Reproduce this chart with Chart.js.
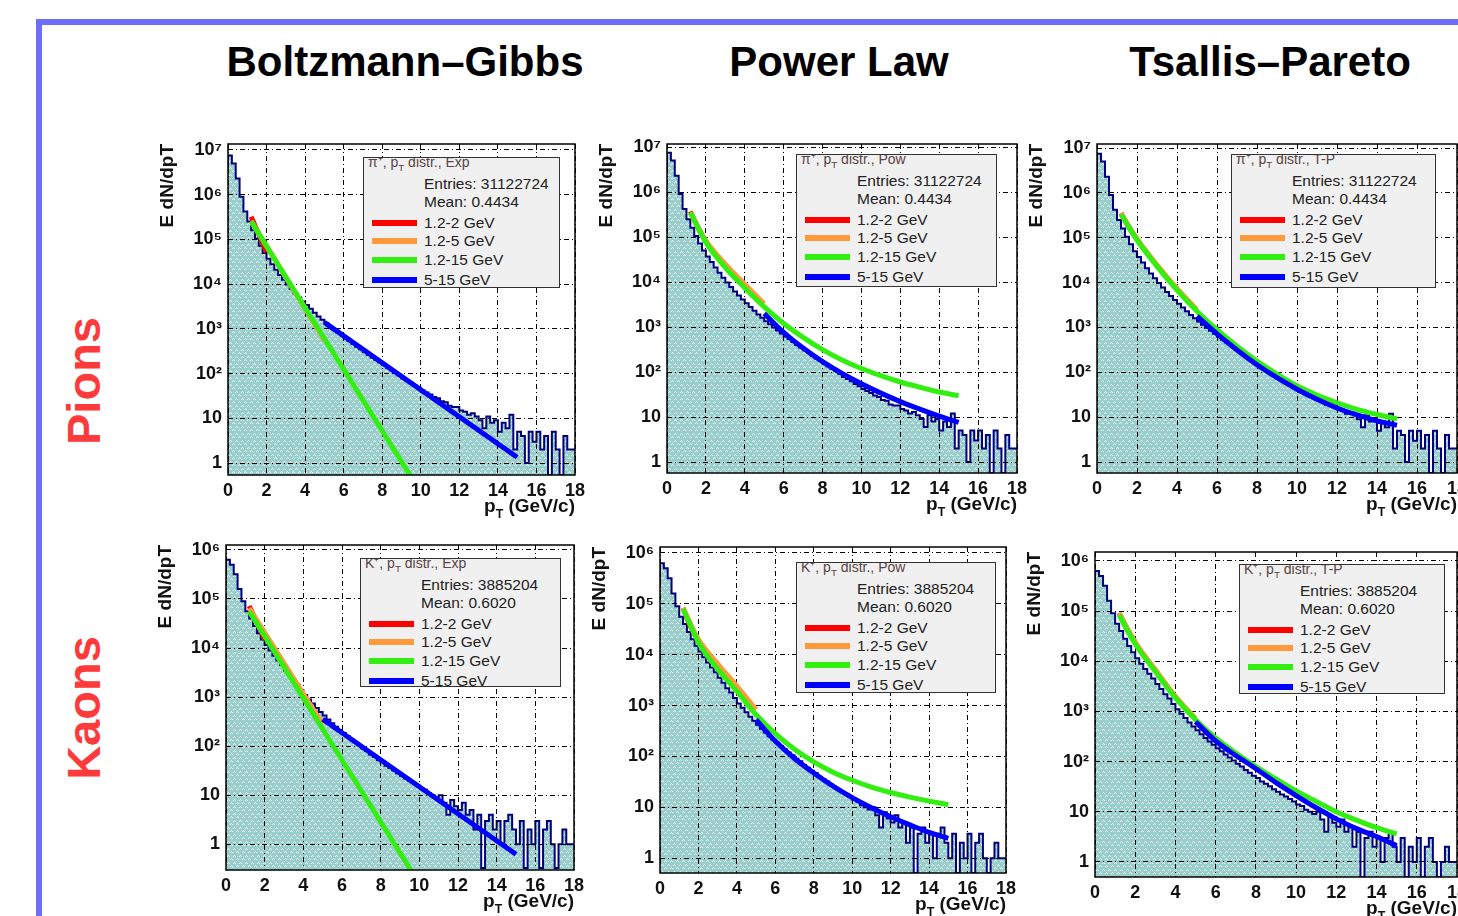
<!DOCTYPE html>
<html>
<head>
<meta charset="utf-8">
<script src="https://cdn.jsdelivr.net/npm/chart.js@4.4.1/dist/chart.umd.min.js"></script>
<style>
  html, body { margin: 0; padding: 0; background: #fff; width: 1458px; height: 916px; overflow: hidden; position: relative;
    font-family: "Liberation Sans", Arial, sans-serif; }
  .frame { position: absolute; left: 36px; top: 19px; width: 1500px; height: 1000px; border: 6px solid #6e6efc; box-sizing: border-box; }
  .col { position: absolute; top: 41px; font-weight: bold; font-size: 42px; line-height: 1; color: #000; transform: translateX(-50%); white-space: nowrap; }
  .row { position: absolute; left: 83px; font-weight: bold; font-size: 47px; line-height: 1; color: #ff3a3a; white-space: nowrap;
    transform: translate(-50%, -50%) rotate(-90deg); }
  canvas { position: absolute; }
  .stats { position: absolute; background: #f0f0f0; border: 1.5px solid #333; box-sizing: border-box; overflow: hidden;
    font-size: 15.5px; color: #222; }
  .stats div { position: absolute; white-space: nowrap; line-height: 1; transform: translateY(-50%); }
  .stats .ttl { font-size: 14px; color: #5a4444; }
  .stats sub { font-size: 0.7em; vertical-align: -0.35em; }
  .xt { position: absolute; font-weight: bold; font-size: 19px; line-height: 1; color: #111; white-space: nowrap; transform: translateX(-100%); }
  .xt sub { font-size: 0.65em; vertical-align: -0.45em; }
</style>
</head>
<body>
<div class="frame"></div>
<div class="col" style="left:405px">Boltzmann–Gibbs</div>
<div class="col" style="left:839px">Power Law</div>
<div class="col" style="left:1270px">Tsallis–Pareto</div>
<div class="row" style="top:381px">Pions</div>
<div class="row" style="top:708px">Kaons</div>

<script>
// histogram bins (GeV/c)
const ptEdges = [0, 0.2, 0.4, 0.6, 0.8, 1, 1.2, 1.4, 1.6, 1.8, 2, 2.2, 2.4, 2.6, 2.8, 3, 3.2, 3.4, 3.6, 3.8,
  4, 4.2, 4.4, 4.6, 4.8, 5, 5.2, 5.4, 5.6, 5.8, 6, 6.2, 6.4, 6.6, 6.8, 7, 7.2, 7.4, 7.6, 7.8,
  8, 8.2, 8.4, 8.6, 8.8, 9, 9.2, 9.4, 9.6, 9.8, 10, 10.2, 10.4, 10.6, 10.8, 11, 11.2, 11.4, 11.6, 11.8,
  12, 12.2, 12.4, 12.6, 12.8, 13, 13.2, 13.4, 13.6, 13.8, 14, 14.2, 14.4, 14.6, 14.8, 15, 15.2, 15.4, 15.6, 15.8,
  16, 16.2, 16.4, 16.6, 16.8, 17, 17.2, 17.4, 17.6, 17.8, 18];

// E dN/dpT per bin
const pionCounts = [
  3.2e6, 7.5e6, 5.0e6, 2.3e6, 9.0e5, 4.2e5, 2.5e5, 1.6e5, 1.05e5, 7.2e4,
  5.0e4, 3.7e4, 2.8e4, 2.1e4, 1.6e4, 1.25e4, 9.8e3, 7.8e3, 6.2e3, 5.0e3,
  4.1e3, 3.4e3, 2.8e3, 2.3e3, 1.9e3, 1.6e3, 1.35e3, 1.15e3, 980, 840,
  720, 620, 540, 465, 400, 350, 305, 265, 230, 200,
  180, 155, 135, 118, 105, 92, 78, 70, 62, 54,
  48, 42, 38, 34, 30, 28, 24, 23, 19, 18,
  18, 15, 14, 12, 13, 11, 9, 6, 11, 8,
  9, 5, 8, 6, 12, 2, 5, 4, 1, 5,
  3, 5, 2, 4, 0, 5, 2, 0, 4, 2];

const kaonCounts = [
  2.5e5, 6.3e5, 5.0e5, 3.2e5, 1.6e5, 9.0e4, 5.6e4, 4.0e4, 2.8e4, 2.0e4,
  1.5e4, 1.15e4, 8.9e3, 7.0e3, 5.6e3, 4.5e3, 3.5e3, 2.8e3, 2.2e3, 1.8e3,
  1.4e3, 1.1e3, 900, 740, 600, 500, 420, 350, 295, 250,
  215, 185, 160, 138, 120, 105, 90, 80, 68, 60,
  52, 47, 40, 36, 32, 28, 25, 22, 20, 18,
  16, 14, 13, 11, 10, 9, 10, 7, 4, 8,
  6, 5, 7, 4, 5, 2, 4, 0, 3, 4,
  2, 3, 1, 3, 4, 2, 1, 3, 0, 2,
  1, 3, 0, 2, 3, 1, 0, 1, 2, 1];

// fit curves, x in GeV/c
const expX_1_2 = [1.2, 2.0];
const expX_1_5 = [1.2, 5.0];
const expX_1_15 = [1.2, 15.0];
const expX_5_15 = [5.0, 15.0];
const curveX_1_2 = [1.2, 1.6, 2.0];
const curveX_1_5 = [1.2, 2, 3, 4, 5];
const curveX_1_15 = [1.2, 2, 3, 4, 5, 6, 7, 8, 9, 10, 11, 12, 13, 14, 15];
const curveX_5_15 = [5, 6, 7, 8, 9, 10, 11, 12, 13, 14, 15];

const piExpRed = [3.2e5, 5.2e4];
const piExpOrange = [2.6e5, 560];
const piExpGreen = [2.5e5, 8e-5];
const piExpBlue = [1.4e3, 1.35];

const piPowRed = [3.7e5, 1.6e5, 7.9e4];
const piPowOrange = [3.5e5, 8.3e4, 2.5e4, 8.9e3, 3.3e3];
const piPowGreen = [3.5e5, 7.6e4, 2.1e4, 7.4e3, 2.8e3, 1.2e3, 590, 316, 186, 120, 83, 60, 46, 36, 30];
const piPowBlue = [2.0e3, 760, 340, 170, 93, 55, 34, 22, 15, 10.5, 7.6];

const piTPRed = [3.5e5, 1.7e5, 9.3e4];
const piTPOrange = [3.5e5, 9.5e4, 2.5e4, 7.4e3, 2.5e3];
const piTPGreen = [3.3e5, 8.9e4, 2.3e4, 6.8e3, 2.3e3, 890, 380, 178, 91, 50, 31, 21, 15, 11.5, 9.1];
const piTPBlue = [1.78e3, 720, 316, 148, 76, 42, 25, 16, 11.2, 8.3, 6.6];

const kExpRed = [7.2e4, 1.5e4];
const kExpOrange = [6.5e4, 280];
const kExpGreen = [5.6e4, 1.1e-4];
const kExpBlue = [355, 0.63];

const kPowRed = [8.3e4, 3.5e4, 1.86e4];
const kPowOrange = [8.3e4, 2.0e4, 6.6e3, 2.4e3, 830];
const kPowGreen = [7.9e4, 1.74e4, 5.2e3, 1.9e3, 660, 280, 138, 78, 49, 34, 25, 19.5, 15.8, 13.2, 11.2];
const kPowBlue = [525, 200, 91, 47, 26, 15.5, 9.8, 6.5, 4.5, 3.2, 2.45];

const kTPRed = [9.1e4, 4.2e4, 2.4e4];
const kTPOrange = [9.1e4, 2.4e4, 6.8e3, 2.0e3, 720];
const kTPGreen = [8.3e4, 2.2e4, 6.2e3, 1.86e3, 680, 295, 148, 79, 45, 26, 16, 10, 6.8, 4.8, 3.6];
const kTPBlue = [620, 257, 132, 72, 38, 21, 12, 7.2, 4.6, 3.2, 2.1];

const fitLabels = ['1.2-2 GeV', '1.2-5 GeV', '1.2-15 GeV', '5-15 GeV'];
const yDecades = [1, 10, 100, 1e3, 1e4, 1e5, 1e6, 1e7];
const xTickStep = 2;

const fitColors = ['#ff0000', '#ff9a3c', '#33ee11', '#0000ff'];
const FONT = "'Liberation Sans', Arial, sans-serif";
const SUP = ['⁰', '¹', '²', '³', '⁴', '⁵', '⁶', '⁷', '⁸', '⁹'];

const panels = [
  { plot: [228, 144, 575, 475], yMin: 0.54, yMax: 1.36e7, counts: pionCounts,
    fits: [[expX_1_2, piExpRed], [expX_1_5, piExpOrange], [expX_1_15, piExpGreen], [expX_5_15, piExpBlue]],
    stats: [363, 157, 560, 288], title: 'π⁺, p<sub>T</sub> distr., Exp', entries: '31122724', mean: '0.4434' },
  { plot: [667, 144, 1017, 473], yMin: 0.57, yMax: 1.17e7, counts: pionCounts,
    fits: [[curveX_1_2, piPowRed], [curveX_1_5, piPowOrange], [curveX_1_15, piPowGreen], [curveX_5_15, piPowBlue]],
    stats: [796, 154, 997, 287], title: 'π⁺, p<sub>T</sub> distr., Pow', entries: '31122724', mean: '0.4434' },
  { plot: [1097, 144, 1457, 473], yMin: 0.57, yMax: 1.23e7, counts: pionCounts,
    fits: [[curveX_1_2, piTPRed], [curveX_1_5, piTPOrange], [curveX_1_15, piTPGreen], [curveX_5_15, piTPBlue]],
    stats: [1231, 154, 1436, 288], title: 'π⁺, p<sub>T</sub> distr., T-P', entries: '31122724', mean: '0.4434' },
  { plot: [226, 545, 574, 870], yMin: 0.33, yMax: 1.26e6, counts: kaonCounts,
    fits: [[expX_1_2, kExpRed], [expX_1_5, kExpOrange], [expX_1_15, kExpGreen], [expX_5_15, kExpBlue]],
    stats: [360, 558, 561, 687], title: 'K⁺, p<sub>T</sub> distr., Exp', entries: '3885204', mean: '0.6020' },
  { plot: [660, 547, 1006, 873], yMin: 0.51, yMax: 1.31e6, counts: kaonCounts,
    fits: [[curveX_1_2, kPowRed], [curveX_1_5, kPowOrange], [curveX_1_15, kPowGreen], [curveX_5_15, kPowBlue]],
    stats: [796, 562, 996, 693], title: 'K⁺, p<sub>T</sub> distr., Pow', entries: '3885204', mean: '0.6020' },
  { plot: [1095, 552, 1457, 877], yMin: 0.5, yMax: 1.5e6, counts: kaonCounts,
    fits: [[curveX_1_2, kTPRed], [curveX_1_5, kTPOrange], [curveX_1_15, kTPGreen], [curveX_5_15, kTPBlue]],
    stats: [1239, 564, 1445, 694], title: 'K⁺, p<sub>T</sub> distr., T-P', entries: '3885204', mean: '0.6020' }
];

// ROOT-like hatched fill
function makeHatch() {
  const c = document.createElement('canvas');
  c.width = 6; c.height = 7;
  const g = c.getContext('2d');
  g.fillStyle = '#98cfcc';
  g.fillRect(0, 0, 6, 7);
  g.fillStyle = 'rgba(255,255,255,0.85)';
  g.fillRect(2, 1, 1, 1); g.fillRect(1, 2, 1, 1); g.fillRect(3, 2, 1, 1);
  g.fillRect(5, 4, 1, 1); g.fillRect(4, 5, 1, 1); g.fillRect(0, 5, 1, 1);
  return g.createPattern(c, 'repeat');
}
const hatch = makeHatch();

// grid drawn on top of the histogram fill but under the fits
const gridOverFill = {
  id: 'gridOverFill',
  afterDatasetDraw(chart, args) {
    if (args.index !== 0) return;
    const ca = chart.chartArea, ctx = chart.ctx;
    ctx.save();
    ctx.beginPath();
    ctx.rect(ca.left, ca.top, ca.right - ca.left, ca.bottom - ca.top);
    ctx.clip();
    chart.scales.x.drawGrid(ca);
    chart.scales.y.drawGrid(ca);
    ctx.restore();
  }
};

const frame = {
  id: 'frame',
  afterDraw(chart) {
    const ca = chart.chartArea, ctx = chart.ctx;
    ctx.save();
    ctx.strokeStyle = '#000';
    ctx.lineWidth = 1.5;
    ctx.strokeRect(ca.left, ca.top, ca.right - ca.left, ca.bottom - ca.top);
    ctx.restore();
  }
};

function decadeLabel(v) {
  if (v === 1) return '1';
  if (v === 10) return '10';
  return '10' + SUP[Math.round(Math.log10(v))];
}

function makePanel(p) {
  const [L, T, R, B] = p.plot;
  const cv = document.createElement('canvas');
  cv.width = R - L + 92;
  cv.height = B - T + 65;
  cv.style.left = (L - 72) + 'px';
  cv.style.top = (T - 20) + 'px';
  document.body.appendChild(cv);

  const histData = ptEdges.map((x, i) => ({ x, y: Math.max(p.counts[Math.min(i, p.counts.length - 1)], p.yMin) }));
  const datasets = [{
    data: histData, stepped: 'after', borderColor: '#00007f', borderWidth: 2,
    backgroundColor: hatch, fill: 'start', pointRadius: 0, order: 5
  }];
  p.fits.forEach(([xs, ys], k) => {
    datasets.push({
      data: xs.map((x, i) => ({ x, y: ys[i] })),
      borderColor: fitColors[k], borderWidth: 5, pointRadius: 0, fill: false,
      cubicInterpolationMode: 'monotone', order: 4 - k
    });
  });

  const tickFont = { family: FONT, size: 18, weight: 'bold' };
  new Chart(cv, {
    type: 'line',
    data: { datasets },
    plugins: [gridOverFill, frame],
    options: {
      responsive: false,
      animation: false,
      devicePixelRatio: 1,
      events: [],
      layout: { padding: { top: 20, right: 20, left: 0, bottom: 0 } },
      plugins: { legend: { display: false }, tooltip: { enabled: false } },
      scales: {
        x: {
          type: 'linear', min: 0, max: 18,
          afterFit: (s) => { s.height = 45; },
          ticks: { stepSize: xTickStep, autoSkip: false, maxRotation: 0, padding: 5, color: '#111', font: tickFont },
          grid: { color: '#000', lineWidth: 1, drawTicks: false },
          border: { display: false, dash: [5, 3, 1, 3] }
        },
        y: {
          type: 'logarithmic', min: p.yMin, max: p.yMax,
          afterFit: (s) => { s.width = 72; },
          afterBuildTicks: (s) => { s.ticks = yDecades.filter(v => v <= p.yMax).map(v => ({ value: v })); },
          ticks: { callback: (v) => decadeLabel(v), padding: 6, color: '#111', font: tickFont },
          title: { display: true, text: 'E dN/dpT', align: 'end', padding: 0, color: '#111',
            font: { family: FONT, size: 19, weight: 'bold' } },
          grid: { color: '#000', lineWidth: 1, drawTicks: false },
          border: { display: false, dash: [5, 3, 1, 3] }
        }
      }
    }
  });

  // stats / legend box
  const [sl, st, sr, sb] = p.stats;
  const box = document.createElement('div');
  box.className = 'stats';
  box.style.cssText = `left:${sl}px;top:${st}px;width:${sr - sl}px;height:${sb - st}px`;
  let html = `<div class="ttl" style="left:4px;top:6px">${p.title}</div>`;
  html += `<div style="left:60px;top:26px">Entries: ${p.entries}</div>`;
  html += `<div style="left:60px;top:44px">Mean: ${p.mean}</div>`;
  const rowsY = [65, 83, 102, 122];
  fitLabels.forEach((lab, k) => {
    html += `<div style="left:8px;top:${rowsY[k]}px;width:45px;height:6px;background:${fitColors[k]}"></div>`;
    html += `<div style="left:60px;top:${rowsY[k]}px">${lab}</div>`;
  });
  box.innerHTML = html;
  document.body.appendChild(box);

  const xt = document.createElement('div');
  xt.className = 'xt';
  xt.style.left = R + 'px';
  xt.style.top = (B + 21) + 'px';
  xt.innerHTML = 'p<sub>T</sub> (GeV/c)';
  document.body.appendChild(xt);
}

panels.forEach(makePanel);
</script>
</body>
</html>
